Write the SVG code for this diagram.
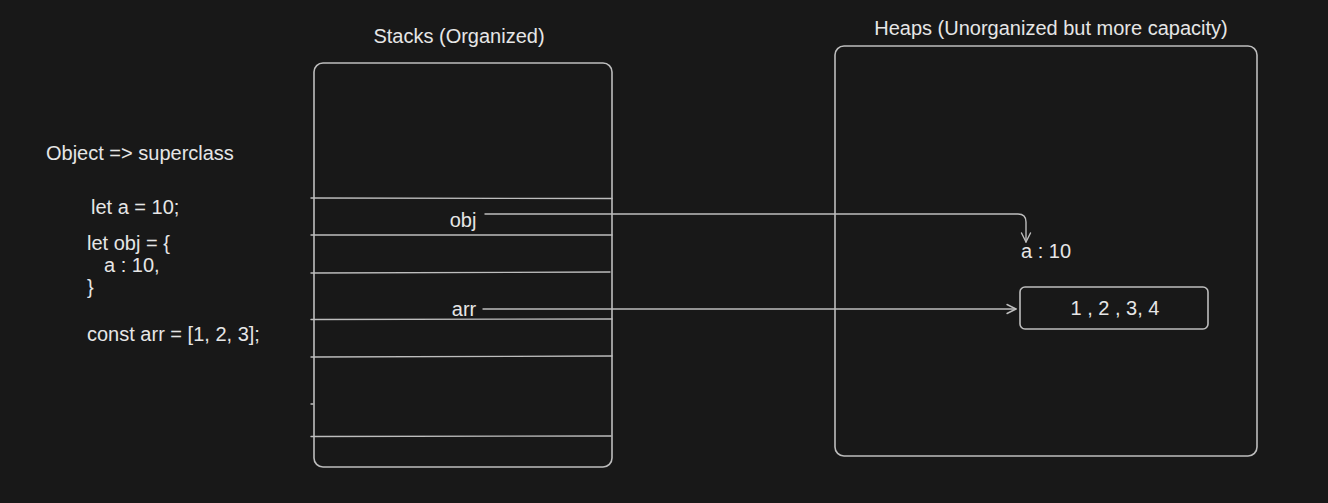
<svg xmlns="http://www.w3.org/2000/svg" width="1328" height="503" viewBox="0 0 1328 503">
<defs>
<style>
.t{font-family:"Liberation Sans",Arial,sans-serif;font-size:20px;fill:#e6e6e6}
.c{text-anchor:middle}
.box{fill:none;stroke:#bdbdbd;stroke-width:1.6}
.ln{fill:none;stroke:#bdbdbd;stroke-width:1.4;stroke-linecap:round}
.ar{fill:none;stroke:#bdbdbd;stroke-width:1.4;stroke-linecap:round;stroke-linejoin:round}
</style>
<marker id="ah" viewBox="0 0 12 12" refX="11" refY="6" markerWidth="12" markerHeight="12" markerUnits="userSpaceOnUse" orient="auto">
<path d="M2,1.5 L11,6 L2,10.5" fill="none" stroke="#bdbdbd" stroke-width="1.4" stroke-linecap="round" stroke-linejoin="round"/>
</marker>
</defs>
<rect width="1328" height="503" fill="#181818"/>

<g id="code">
<text class="t" x="46" y="160">Object =&gt; superclass</text>
<text class="t" x="91" y="214">let a = 10;</text>
<text class="t" x="87" y="250">let obj = {</text>
<text class="t" x="104" y="272">a : 10,</text>
<text class="t" x="87" y="294">}</text>
<text class="t" x="87" y="341">const arr = [1, 2, 3];</text>
</g>

<g id="stack">
<text class="t c" x="459" y="43">Stacks (Organized)</text>
<rect class="box" x="314" y="63" width="298" height="404" rx="9"/>
<line class="ln" x1="311" y1="198" x2="612" y2="198.5"/>
<line class="ln" x1="311" y1="235" x2="612" y2="235"/>
<line class="ln" x1="311" y1="273" x2="610" y2="272"/>
<line class="ln" x1="311" y1="319.5" x2="612" y2="319"/>
<line class="ln" x1="311" y1="357" x2="612" y2="356"/>
<line class="ln" x1="311" y1="404" x2="313" y2="404"/>
<line class="ln" x1="311" y1="436.5" x2="611" y2="436"/>
<text class="t c" x="463" y="227">obj</text>
<text class="t c" x="464" y="316">arr</text>
</g>

<g id="heap">
<text class="t c" x="1051" y="35">Heaps (Unorganized but more capacity)</text>
<rect class="box" x="835" y="46" width="422" height="410" rx="9"/>
</g>

<g id="obj-value">
<text class="t" x="1021" y="258">a : 10</text>
</g>

<g id="arr-value">
<rect class="box" x="1020" y="287" width="188" height="42" rx="5"/>
<text class="t c" x="1115" y="315">1 , 2 , 3, 4</text>
</g>

<g id="connectors">
<path class="ar" d="M485,214 L1018,214 Q1026,214 1026,222 L1026,242" marker-end="url(#ah)"/>
<path class="ar" d="M483,309 L1016,309" marker-end="url(#ah)"/>
</g>
</svg>
